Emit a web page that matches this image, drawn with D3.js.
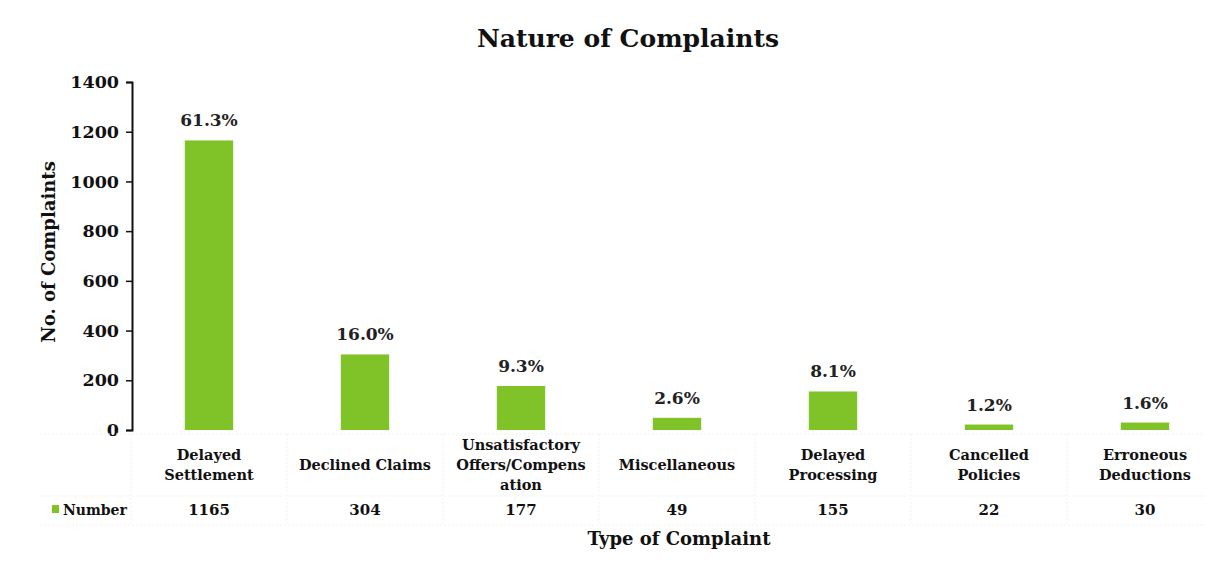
<!DOCTYPE html>
<html>
<head>
<meta charset="utf-8">
<script src="https://cdn.jsdelivr.net/npm/d3@7"></script>
<style>
  body { margin: 0; background: #fff; }
  svg { display: block; font-family: "DejaVu Serif", serif; }
</style>
</head>
<body>
<svg id="chart"></svg>
<script>
const categories = [
  ["Delayed", "Settlement"],
  ["Declined Claims"],
  ["Unsatisfactory", "Offers/Compens", "ation"],
  ["Miscellaneous"],
  ["Delayed", "Processing"],
  ["Cancelled", "Policies"],
  ["Erroneous", "Deductions"]
];
const numbers = [1165, 304, 177, 49, 155, 22, 30];
const percents = ["61.3%", "16.0%", "9.3%", "2.6%", "8.1%", "1.2%", "1.6%"];
const yTicks = [0, 200, 400, 600, 800, 1000, 1200, 1400];

const width = 1205;
const height = 575;
const green = "#80c329";

const svg = d3.select("#chart")
  .attr("width", width)
  .attr("height", height);

//scales
const x = d3.scaleBand()
  .domain(d3.range(categories.length))
  .range([131, 1223])
  .paddingInner(0.69)
  .paddingOuter(0.345);

const y = d3.scaleLinear()
  .domain([0, 1400])
  .range([430, 82]);

//title
svg.append("text")
  .attr("x", 628)
  .attr("y", 47)
  .attr("text-anchor", "middle")
  .attr("fill", "#111")
  .style("font-size", "25px")
  .style("font-weight", "bold")
  .text("Nature of Complaints");

//y axis
const yAxis = svg.append("g")
  .attr("transform", "translate(132,0)")
  .call(d3.axisLeft(y).tickValues(yTicks).tickSize(6).tickPadding(7).tickFormat(d3.format("d")));

yAxis.select(".domain").attr("stroke", "#111").attr("stroke-width", 2);
yAxis.selectAll(".tick line").attr("stroke", "#111").attr("stroke-width", 1.5);
yAxis.selectAll(".tick text")
  .attr("fill", "#111")
  .style("font-family", "DejaVu Serif, serif")
  .style("font-size", "17.5px")
  .style("font-weight", "bold");

svg.append("text")
  .attr("transform", "translate(55,252) rotate(-90)")
  .attr("text-anchor", "middle")
  .attr("fill", "#111")
  .style("font-size", "18px")
  .style("font-weight", "bold")
  .text("No. of Complaints");

//bars
svg.selectAll(".bar")
  .data(numbers)
  .enter()
  .append("rect")
    .attr("class", "bar")
    .attr("x", (d, i) => x(i))
    .attr("y", d => y(d))
    .attr("width", x.bandwidth())
    .attr("height", d => y(0) - y(d))
    .attr("fill", green);

//percent labels
svg.selectAll(".pct")
  .data(percents)
  .enter()
  .append("text")
    .attr("class", "pct")
    .attr("x", (d, i) => x(i) + x.bandwidth() / 2)
    .attr("y", (d, i) => y(numbers[i]) - 14)
    .attr("text-anchor", "middle")
    .attr("fill", "#222")
    .style("font-size", "17px")
    .style("font-weight", "600")
    .text(d => d);

//table grid (faint)
const grid = svg.append("g")
  .attr("stroke", "#f2f2f2")
  .attr("stroke-width", 1)
  .attr("stroke-dasharray", "2,2");

grid.selectAll(".hline")
  .data([434, 496, 525])
  .enter()
  .append("line")
    .attr("x1", 40)
    .attr("x2", width)
    .attr("y1", d => d)
    .attr("y2", d => d);

grid.selectAll(".vline")
  .data(d3.range(categories.length))
  .enter()
  .append("line")
    .attr("x1", i => x(i) - x.step() * x.paddingOuter())
    .attr("x2", i => x(i) - x.step() * x.paddingOuter())
    .attr("y1", 434)
    .attr("y2", 525);

//category labels
const cat = svg.selectAll(".cat")
  .data(categories)
  .enter()
  .append("text")
    .attr("class", "cat")
    .attr("text-anchor", "middle")
    .attr("fill", "#111")
    .style("font-size", "14.5px")
    .style("font-weight", "bold")
    .attr("transform", (d, i) => `translate(${x(i) + x.bandwidth() / 2},${470 - (d.length - 1) * 10})`);

cat.selectAll("tspan")
  .data(d => d)
  .enter()
  .append("tspan")
    .attr("x", 0)
    .attr("y", (d, j) => j * 20)
    .text(d => d);

//data table row
svg.append("rect")
  .attr("x", 52)
  .attr("y", 505)
  .attr("width", 7)
  .attr("height", 8)
  .attr("fill", green);

svg.append("text")
  .attr("x", 63)
  .attr("y", 515)
  .attr("fill", "#111")
  .style("font-size", "14px")
  .style("font-weight", "bold")
  .text("Number");

svg.selectAll(".num")
  .data(numbers)
  .enter()
  .append("text")
    .attr("class", "num")
    .attr("x", (d, i) => x(i) + x.bandwidth() / 2)
    .attr("y", 515)
    .attr("text-anchor", "middle")
    .attr("fill", "#111")
    .style("font-size", "15px")
    .style("font-weight", "bold")
    .text(d => d);

//x axis title
svg.append("text")
  .attr("x", 679)
  .attr("y", 545)
  .attr("text-anchor", "middle")
  .attr("fill", "#111")
  .style("font-size", "18px")
  .style("font-weight", "bold")
  .text("Type of Complaint");
</script>
</body>
</html>
